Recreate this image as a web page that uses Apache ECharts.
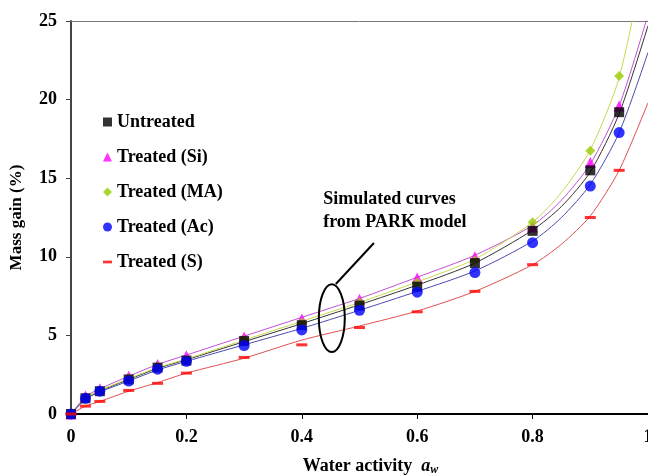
<!DOCTYPE html>
<html>
<head>
<meta charset="utf-8">
<script src="https://cdn.jsdelivr.net/npm/echarts@6/dist/echarts.min.js"></script>
<style>html,body{margin:0;padding:0;background:#fff}#c{width:648px;height:475px}</style>
</head>
<body>
<div id="c"></div>
<script>
// Measured points
const aw = [0, 0.025, 0.05, 0.1, 0.15, 0.2, 0.3, 0.4, 0.5, 0.6, 0.7, 0.8, 0.9, 0.95];
const untreated = [0, 1.0, 1.45, 2.2, 2.95, 3.4, 4.65, 5.65, 6.9, 8.1, 9.6, 11.65, 15.5, 19.2];
const treatedSi = [0, 1.15, 1.6, 2.4, 3.15, 3.7, 4.9, 6.05, 7.3, 8.65, 10.0, 11.9, 16.0, 19.6];
const treatedMA = [0, 1.05, 1.5, 2.25, 3.0, 3.45, 4.7, 5.8, 7.1, 8.35, 9.75, 12.2, 16.75, 21.5];
const treatedAc = [0, 1.0, 1.45, 2.1, 2.85, 3.35, 4.35, 5.35, 6.6, 7.75, 9.0, 10.9, 14.5, 17.9];
const treatedS  = [0, 0.5, 0.8, 1.5, 1.95, 2.6, 3.6, 4.4, 5.5, 6.5, 7.8, 9.5, 12.5, 15.5];

// Simulated PARK model curves
const curveAw = [0, 0.025, 0.05, 0.1, 0.15, 0.2, 0.3, 0.4, 0.5, 0.6, 0.7, 0.8, 0.85, 0.9, 0.95, 1.0];
const curveUntreated = [0, 0.95, 1.45, 2.2, 2.9, 3.45, 4.6, 5.75, 6.95, 8.2, 9.6, 11.7, 13.2, 15.4, 19.1, 24.7];
const curveSi = [0, 1.1, 1.6, 2.4, 3.15, 3.75, 4.95, 6.15, 7.35, 8.7, 10.1, 12.0, 13.6, 15.9, 19.6, 25.4];
const curveMA = [0, 1.0, 1.5, 2.25, 2.95, 3.5, 4.7, 5.9, 7.1, 8.4, 9.85, 12.2, 14.1, 16.8, 21.4, 30];
const curveAc = [0, 0.95, 1.4, 2.1, 2.8, 3.35, 4.4, 5.45, 6.6, 7.8, 9.1, 11.0, 12.5, 14.6, 17.9, 23.0];
const curveS  = [0, 0.5, 0.8, 1.45, 2.0, 2.6, 3.55, 4.7, 5.6, 6.55, 7.8, 9.5, 10.8, 12.6, 15.5, 19.8];

const seriesNames = ['Untreated', 'Treated (Si)', 'Treated (MA)', 'Treated (Ac)', 'Treated (S)'];
const yTicks = [0, 5, 10, 15, 20, 25];

const FONT = 'Liberation Serif';
const pts = (xs, ys) => xs.map((x, i) => [x, ys[i]]);

const groups = [
  {name: seriesNames[0], pts: untreated, curve: curveUntreated, color: '#000000', line: '#333333', symbol: 'rect', size: 10, icon: 'rect'},
  {name: seriesNames[1], pts: treatedSi, curve: curveSi, color: '#ff00ff', line: '#c050d0', symbol: 'triangle', size: 11, icon: 'triangle'},
  {name: seriesNames[2], pts: treatedMA, curve: curveMA, color: '#99cc00', line: '#c8d850', symbol: 'diamond', size: 10, icon: 'diamond'},
  {name: seriesNames[3], pts: treatedAc, curve: curveAc, color: '#0000ff', line: '#4a4ab0', symbol: 'circle', size: 11, icon: 'circle'},
  {name: seriesNames[4], pts: treatedS, curve: curveS, color: '#ff0000', line: '#e05050', symbol: 'path://M0,0h10v3h-10z', size: [11, 3], icon: 'path://M0,0h10v3h-10z'}
];

const series = [];
groups.forEach(g => {
  series.push({
    name: g.name + ' PARK', type: 'line', data: pts(curveAw, g.curve),
    showSymbol: false, symbol: 'none', smooth: 0.25, clip: true,
    lineStyle: {color: g.line, width: 1}, z: 2, silent: true
  });
});
[1, 2, 0, 3, 4].forEach(i => {
  const g = groups[i];
  series.push({
    name: g.name, type: 'scatter', data: pts(aw, g.pts),
    symbol: g.symbol, symbolSize: g.size,
    itemStyle: {color: g.color}, z: 5
  });
});

const chart = echarts.init(document.getElementById('c'), null, {renderer: 'canvas'});
const labelStyle = {fontFamily: FONT, fontWeight: 'bold', fontSize: 18, color: '#000'};

chart.setOption({
  backgroundColor: '#fff',
  animation: false,
  grid: {left: 71, right: 0, top: 21, bottom: 61, outerBoundsMode: 'none', containLabel: false},
  legend: {
    orient: 'vertical', left: 103, top: 113, padding: 0, itemWidth: 9, itemHeight: 9, itemGap: 17,
    textStyle: {fontFamily: FONT, fontWeight: 'bold', fontSize: 18, color: '#000', lineHeight: 18},
    data: groups.map(g => ({name: g.name, icon: g.icon}))
  },
  xAxis: [{
    type: 'value', min: 0, max: 1, interval: 0.2,
    name: 'Water activity  {i|a}{s|w}', nameLocation: 'middle', nameGap: 42,
    nameTextStyle: {fontFamily: FONT, fontWeight: 'bold', fontSize: 18, color: '#000', padding: [0, 0, 0, 22],
      rich: {i: {fontFamily: FONT, fontStyle: 'italic', fontWeight: 'bold', fontSize: 18, color: '#000'},
             s: {fontFamily: FONT, fontStyle: 'italic', fontWeight: 'bold', fontSize: 12, color: '#000', verticalAlign: 'bottom', padding: [8, 0, 0, 0]}}},
    axisLine: {show: true, onZero: false, lineStyle: {color: '#000', width: 2}},
    axisTick: {show: true, length: 5, lineStyle: {color: '#000', width: 1}},
    axisLabel: Object.assign({margin: 14, formatter: v => String(+v.toFixed(1))}, labelStyle),
    splitLine: {show: false}
  }, {
    type: 'value', min: 0, max: 1, position: 'top',
    axisLine: {show: true, onZero: false, lineStyle: {color: '#777', width: 1}},
    axisTick: {show: false}, axisLabel: {show: false}, splitLine: {show: false}
  }],
  yAxis: {
    type: 'value', min: yTicks[0], max: yTicks[yTicks.length - 1], interval: 5,
    name: 'Mass gain (%)', nameLocation: 'middle', nameGap: 46,
    nameTextStyle: {fontFamily: FONT, fontWeight: 'bold', fontSize: 17, color: '#000'},
    axisLine: {show: true, onZero: false, lineStyle: {color: '#444', width: 2}},
    axisTick: {show: true, length: 5, lineStyle: {color: '#444', width: 1}},
    axisLabel: Object.assign({margin: 14}, labelStyle),
    splitLine: {show: false}
  },
  series: series
});

// Annotation (positioned in data coordinates)
const px = p => chart.convertToPixel({gridIndex: 0}, p);
const c = px([0.452, 6.1]);
const cr = px([0.452 + 0.0225, 6.1 + 2.16]);
const l1 = px([0.459, 8.27]);
const l2 = px([0.525, 10.88]);
const t = px([0.437, 14.4]);
chart.setOption({
  graphic: [
    {type: 'ellipse', shape: {cx: c[0], cy: c[1], rx: Math.abs(cr[0] - c[0]), ry: Math.abs(c[1] - cr[1])},
     style: {fill: 'none', stroke: '#000', lineWidth: 2}, z: 10},
    {type: 'line', shape: {x1: l1[0], y1: l1[1], x2: l2[0], y2: l2[1]},
     style: {stroke: '#000', lineWidth: 2}, z: 10},
    {type: 'text', left: t[0], top: t[1], z: 10,
     style: {text: 'Simulated curves\nfrom PARK model', fontFamily: FONT, fontWeight: 'bold', fontSize: 18, lineHeight: 23, fill: '#000'}}
  ]
});
</script>
</body>
</html>
